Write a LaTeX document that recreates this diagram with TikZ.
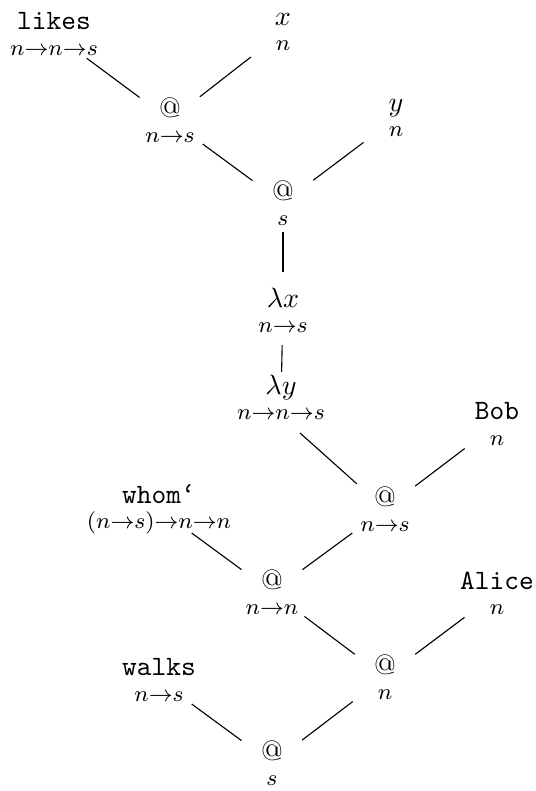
\documentclass[tikz,border=0pt]{standalone}
\usepackage{xcolor}
\usepackage{tikz}

\begin{document}
\begin{tikzpicture}[x=0.357pt, y=-0.357pt,
    term/.style={align=center, inner sep=2pt},
    edge/.style={shorten <=13.5pt, shorten >=14.5pt}]
  \useasboundingbox (0,0) rectangle (536,791);
  \node (likes) [term] at (54,34) {\texttt{likes}\\[-3pt]{\footnotesize $n{\to}n{\to}s$}};
  \node (x) [term] at (283,32) {$x$\\[-3pt]{\footnotesize $n$}};
  \node (app1) [term] at (170,120) {$@$\\[-3pt]{\footnotesize $n{\to}s$}};
  \node (y) [term] at (396,118) {$y$\\[-3pt]{\footnotesize $n$}};
  \node (app2) [term] at (283,203) {$@$\\[-3pt]{\footnotesize $s$}};
  \node (lamx) [term] at (283,310) {$\lambda x$\\[-3pt]{\footnotesize $n{\to}s$}};
  \node (lamy) [term] at (281,397) {$\lambda y$\\[-3pt]{\footnotesize $n{\to}n{\to}s$}};
  \coordinate (lamyfoot) at ([shift={(19,36)}]lamy.center);
  \node (bob) [term] at (497,424) {\texttt{Bob}\\[-3pt]{\footnotesize $n$}};
  \node (app3) [term] at (385,509) {$@$\\[-3pt]{\footnotesize $n{\to}s$}};
  \node (whom) [term] at (159,509) {\texttt{whom‘}\\[-3pt]{\footnotesize $(n{\to}s){\to}n{\to}n$}};
  \node (app4) [term] at (272,592) {$@$\\[-3pt]{\footnotesize $n{\to}n$}};
  \node (alice) [term] at (497,593) {\texttt{Alice}\\[-3pt]{\footnotesize $n$}};
  \node (app5) [term] at (385,677) {$@$\\[-3pt]{\footnotesize $n$}};
  \node (walks) [term] at (159,680) {\texttt{walks}\\[-3pt]{\footnotesize $n{\to}s$}};
  \node (app6) [term] at (272,763) {$@$\\[-3pt]{\footnotesize $s$}};
  \draw[edge] (app1.center) -- (likes.center);
  \draw[edge] (app1.center) -- (x.center);
  \draw[edge] (app2.center) -- (app1.center);
  \draw[edge] (app2.center) -- (y.center);
  \draw[edge, shorten >=10.4pt] (lamx.center) -- (app2.center);
  \draw[edge, shorten <=9pt, shorten >=12.5pt] (lamy.center) -- (lamx.center);
  \draw[edge, shorten >=0pt] (app3.center) -- (lamyfoot);
  \draw[edge] (app3.center) -- (bob.center);
  \draw[edge] (app4.center) -- (whom.center);
  \draw[edge] (app4.center) -- (app3.center);
  \draw[edge] (app5.center) -- (app4.center);
  \draw[edge] (app5.center) -- (alice.center);
  \draw[edge] (app6.center) -- (walks.center);
  \draw[edge] (app6.center) -- (app5.center);
\end{tikzpicture}
\end{document}
